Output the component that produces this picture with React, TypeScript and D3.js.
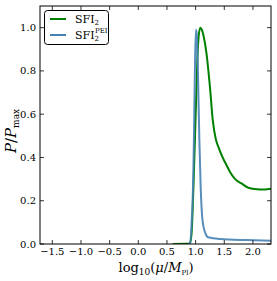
import React from 'react';
import * as d3 from 'd3';

// SFI2 curve (green)
const sfiX = [0.60, 0.90, 0.93, 0.95, 0.97, 0.99, 1.01, 1.03, 1.05, 1.08, 1.11, 1.14, 1.19, 1.25, 1.30, 1.35, 1.41, 1.48, 1.54, 1.60, 1.69, 1.80, 1.92, 2.07, 2.20, 2.32];
const sfiY = [0.0, 0.002, 0.05, 0.17, 0.33, 0.50, 0.68, 0.85, 0.95, 1.0, 0.99, 0.96, 0.88, 0.725, 0.57, 0.487, 0.44, 0.395, 0.364, 0.333, 0.30, 0.28, 0.26, 0.253, 0.252, 0.256];

// SFI2 PEI curve (blue)
const peiX = [0.87, 0.90, 0.93, 0.96, 0.97, 0.99, 1.005, 1.02, 1.04, 1.065, 1.09, 1.12, 1.16, 1.22, 1.43, 1.89, 2.32];
const peiY = [0.0, 0.003, 0.095, 0.326, 0.48, 0.85, 0.99, 0.97, 0.80, 0.48, 0.25, 0.11, 0.057, 0.031, 0.023, 0.018, 0.015];

const xTicks = [-1.5, -1.0, -0.5, 0.0, 0.5, 1.0, 1.5, 2.0];
const yTicks = [0.0, 0.2, 0.4, 0.6, 0.8, 1.0];

const width = 277;
const height = 281;
const margin = { top: 6, right: 6, bottom: 37, left: 40 };
const font = '"DejaVu Serif", "Liberation Serif", serif';

export default function App() {
    const x = d3.scaleLinear().domain([-1.715, 2.315]).range([margin.left, width - margin.right]);
    const y = d3.scaleLinear().domain([0, 1.1]).range([height - margin.bottom, margin.top]);

    const line = d3
        .line<[number, number]>()
        .x(d => x(d[0]))
        .y(d => y(d[1]))
        .curve(d3.curveMonotoneX);

    const sfi = line(sfiX.map((v, i) => [v, sfiY[i]]) as [number, number][]) || '';
    const pei = line(peiX.map((v, i) => [v, peiY[i]]) as [number, number][]) || '';

    const fmt = d3.format('.1f');
    const x0 = margin.left, x1 = width - margin.right;
    const y0 = height - margin.bottom, y1 = margin.top;
    const tick = 4;

    return (
        <svg width={width} height={height} style={{ position: 'absolute', left: 0, top: 0, background: '#fff' }}>
            <defs>
                <clipPath id="plot">
                    <rect x={x0} y={y1} width={x1 - x0} height={y0 - y1} />
                </clipPath>
            </defs>

            <g clipPath="url(#plot)">
                <path d={sfi} fill="none" stroke="#008000" strokeWidth={2} />
                <path d={pei} fill="none" stroke="#4682b4" strokeWidth={2} strokeOpacity={0.9} />
            </g>

            {/* frame */}
            <rect x={x0} y={y1} width={x1 - x0} height={y0 - y1} fill="none" stroke="#000" strokeWidth={1} />

            {/* x ticks, inward on top and bottom */}
            {xTicks.map(t => (
                <g key={'x' + t}>
                    <line x1={x(t)} x2={x(t)} y1={y0} y2={y0 - tick} stroke="#000" strokeWidth={0.8} />
                    <line x1={x(t)} x2={x(t)} y1={y1} y2={y1 + tick} stroke="#000" strokeWidth={0.8} />
                    <text x={x(t)} y={y0 + 11} textAnchor="middle" fontFamily={font} fontSize={10} fill="#000">
                        {fmt(t)}
                    </text>
                </g>
            ))}

            {/* y ticks, inward on left and right */}
            {yTicks.map(t => (
                <g key={'y' + t}>
                    <line x1={x0} x2={x0 + tick} y1={y(t)} y2={y(t)} stroke="#000" strokeWidth={0.8} />
                    <line x1={x1} x2={x1 - tick} y1={y(t)} y2={y(t)} stroke="#000" strokeWidth={0.8} />
                    <text x={x0 - 4} y={y(t)} dy="0.35em" textAnchor="end" fontFamily={font} fontSize={10} fill="#000">
                        {fmt(t)}
                    </text>
                </g>
            ))}

            {/* axis labels */}
            <text x={156} y={272} textAnchor="middle" fontFamily={font} fontSize={13} fill="#000">
                log<tspan fontSize={9} dy={3}>10</tspan>
                <tspan dy={-3}>(</tspan>
                <tspan fontStyle="italic">μ</tspan>/<tspan fontStyle="italic">M</tspan>
                <tspan fontSize={7} dy={3}>Pl</tspan>
                <tspan dy={-3}>)</tspan>
            </text>
            <text transform="translate(16,131) rotate(-90)" textAnchor="middle" fontFamily={font} fontSize={15} fill="#000">
                <tspan fontStyle="italic">P</tspan>/<tspan fontStyle="italic">P</tspan>
                <tspan fontSize={9} dy={3}>max</tspan>
            </text>

            {/* legend */}
            <rect x={44.5} y={10.5} width={64} height={34} rx={3} fill="#fff" stroke="#000" strokeWidth={1} />
            <line x1={50} x2={66} y1={19} y2={19} stroke="#008000" strokeWidth={2} />
            <line x1={50} x2={66} y1={35} y2={35} stroke="#4682b4" strokeWidth={2} />
            <text x={75} y={23} fontFamily={font} fontSize={11} fill="#000">
                SFI<tspan fontSize={7} dy={2}>2</tspan>
            </text>
            <text x={75} y={39} fontFamily={font} fontSize={11} fill="#000">
                SFI<tspan fontSize={7} dy={2}>2</tspan>
                <tspan fontSize={7} dx={-4} dy={-8}>PEI</tspan>
            </text>
        </svg>
    );
}
